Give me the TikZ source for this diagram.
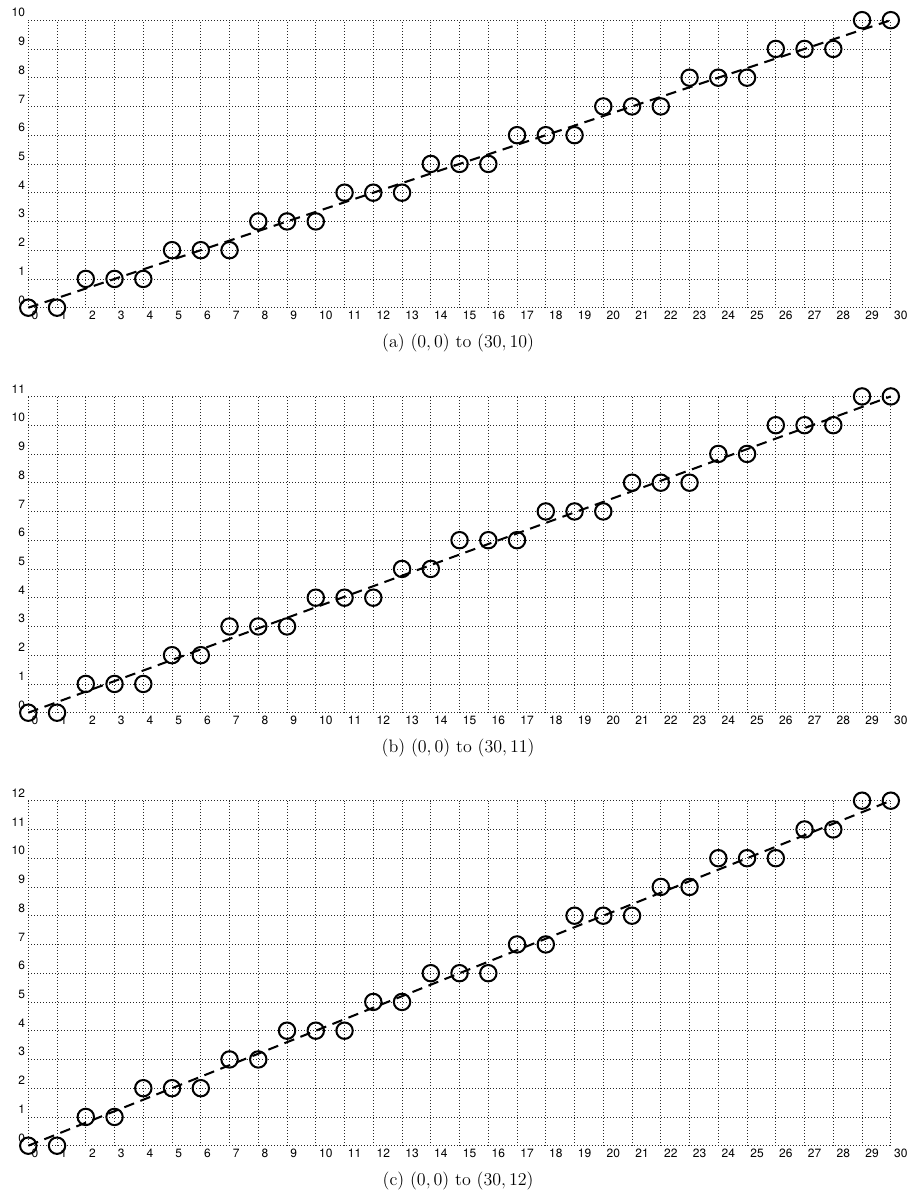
\documentclass[tikz,border=0pt]{standalone}
\usepackage{fontspec}
\newfontfamily\tickfont{TeX Gyre Heros}
\usetikzlibrary{positioning}

\begin{document}
\begin{tikzpicture}[
    x=0.674cm, y=0.674cm,
    gridline/.style={
        step=1,
        line width=0.5pt,
        dash pattern=on 0.5pt off 1.5pt,
        draw=black!85
    },
    pixel/.style={
        circle,
        draw=black,
        line width=1.35pt,
        inner sep=0pt,
        minimum size=3.85mm
    },
    ideal/.style={
        draw=black,
        line width=1.35pt,
        dash pattern=on 7pt off 4.5pt
    },
    ticklabel/.style={
        font=\tickfont\fontsize{8}{9}\selectfont,
        inner sep=2pt
    },
    caption/.style={
        font=\fontsize{12}{14}\selectfont
    }
]

\useasboundingbox (-0.984,-1.68) rectangle (30.70,39.85);

% one panel per end point (30,n)
\foreach \n/\yoff/\sub in {10/29.148/a, 11/15.061/b, 12/0/c} {
  \begin{scope}[shift={(0,\yoff)}]
    % Grid
    \draw [gridline] (0,0) grid (30,\n);
    \foreach \i in {0,...,30}
      \node [ticklabel, anchor=north west] (\sub-xl-\i) at (\i,0) {\i};
    \foreach \j in {0,...,\n}
      \node [ticklabel, anchor=south east] (\sub-yl-\j) at (0,\j) {\j};

    % Ideal line
    \coordinate (\sub-start) at (0,0);
    \coordinate (\sub-end) at (30,\n);
    \draw [ideal] (\sub-start) -- (\sub-end);

    % Pixels
    \foreach \i in {0,...,30}
      \node [pixel] (\sub-p\i) at (\i,{\the\numexpr\i*\n/30\relax}) {};

    % Caption
    \node [caption] (\sub-cap) at (14.95,-1.22) {(\sub) $(0,0)$ to $(30,\n)$};
  \end{scope}
}

\end{tikzpicture}
\end{document}
